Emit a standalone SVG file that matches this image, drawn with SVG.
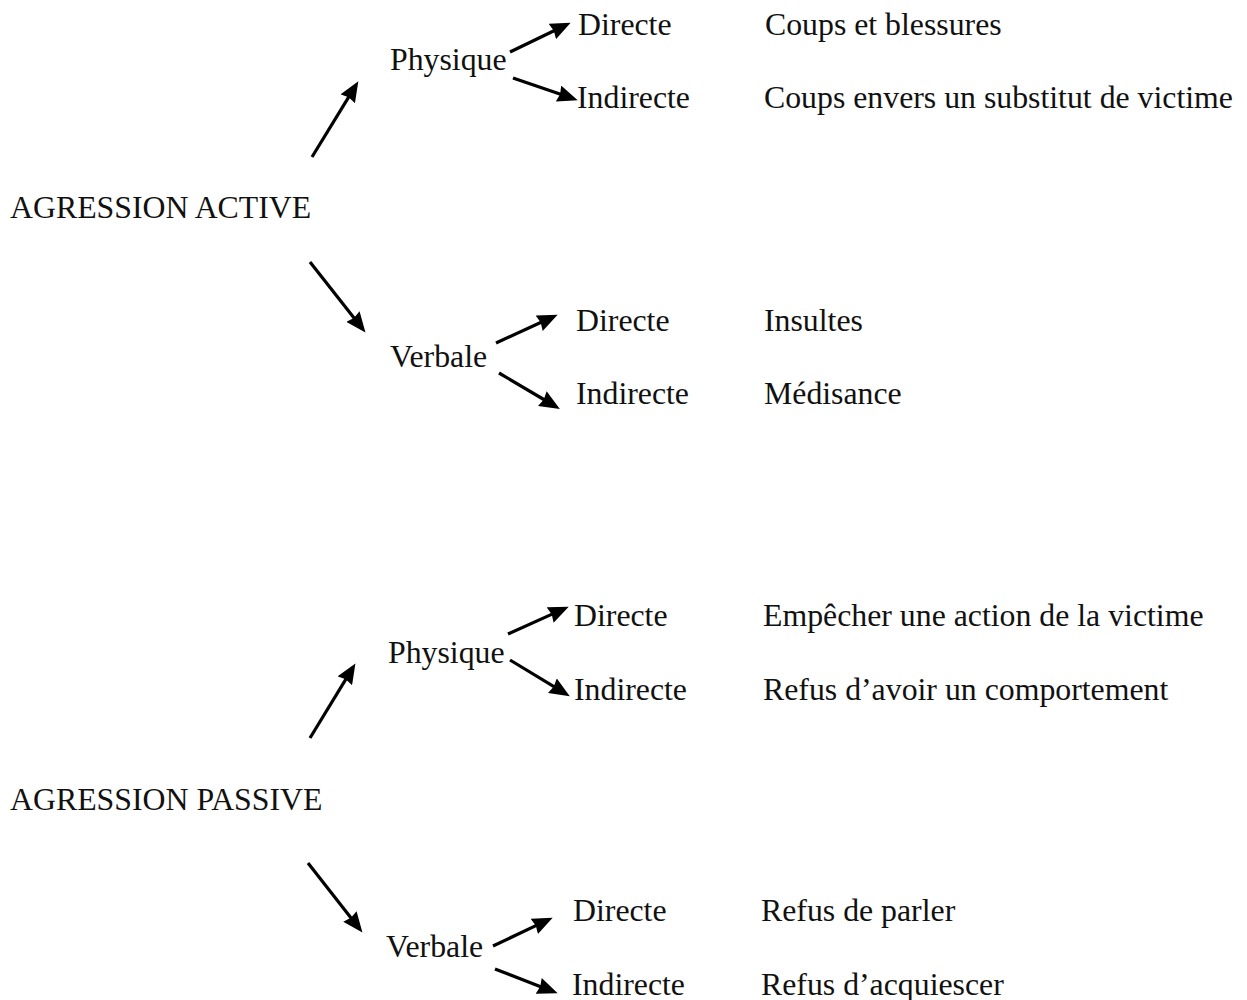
<svg xmlns="http://www.w3.org/2000/svg" width="1247" height="1000" viewBox="0 0 1247 1000">
<defs>
<marker id="ah" viewBox="0 0 12 10" markerWidth="6.4" markerHeight="5.3" refX="4.5" refY="5" orient="auto" markerUnits="strokeWidth">
<path d="M0,0 L12,5 L0,10 L1,5 Z" fill="#000"/>
</marker>
<style>
text{font-family:"Liberation Serif","Times New Roman",serif;font-size:31.8px;fill:#111}
.c line{stroke:#000;stroke-width:3.2;marker-end:url(#ah)}
</style>
</defs>
<rect width="1247" height="1000" fill="#fff"/>
<g id="active"><text x="10" y="218">AGRESSION ACTIVE</text></g>
<g id="a-phys"><text x="390" y="70">Physique</text></g>
<g id="a-phys-dir"><text x="578" y="35">Directe</text></g>
<g id="a-phys-ind"><text x="577" y="108">Indirecte</text></g>
<g id="a-phys-dir-ex"><text x="765" y="35">Coups et blessures</text></g>
<g id="a-phys-ind-ex"><text x="764" y="108">Coups envers un substitut de victime</text></g>
<g id="a-verb"><text x="390" y="367">Verbale</text></g>
<g id="a-verb-dir"><text x="576" y="331">Directe</text></g>
<g id="a-verb-ind"><text x="576" y="404">Indirecte</text></g>
<g id="a-verb-dir-ex"><text x="764" y="331">Insultes</text></g>
<g id="a-verb-ind-ex"><text x="764" y="404">Médisance</text></g>
<g id="passive"><text x="10" y="810">AGRESSION PASSIVE</text></g>
<g id="p-phys"><text x="388" y="663">Physique</text></g>
<g id="p-phys-dir"><text x="574" y="626">Directe</text></g>
<g id="p-phys-ind"><text x="574" y="700">Indirecte</text></g>
<g id="p-phys-dir-ex"><text x="763" y="626">Empêcher une action de la victime</text></g>
<g id="p-phys-ind-ex"><text x="763" y="700">Refus d’avoir un comportement</text></g>
<g id="p-verb"><text x="386" y="957">Verbale</text></g>
<g id="p-verb-dir"><text x="573" y="921">Directe</text></g>
<g id="p-verb-ind"><text x="572" y="995">Indirecte</text></g>
<g id="p-verb-dir-ex"><text x="761" y="921">Refus de parler</text></g>
<g id="p-verb-ind-ex"><text x="761" y="995">Refus d’acquiescer</text></g>
<g id="connectors" class="c">
<line x1="312" y1="157" x2="351.7" y2="92.2"/>
<line x1="510" y1="52" x2="559.2" y2="28.2"/>
<line x1="513" y1="78" x2="565.7" y2="96.1"/>
<line x1="310" y1="262" x2="357.6" y2="322.6"/>
<line x1="496" y1="343" x2="546.1" y2="320"/>
<line x1="499" y1="373" x2="548.9" y2="402.5"/>
<line x1="310" y1="738" x2="348.8" y2="674.3"/>
<line x1="508" y1="634" x2="557.1" y2="611.9"/>
<line x1="510" y1="660" x2="558.9" y2="689.6"/>
<line x1="308" y1="863" x2="354.6" y2="922.5"/>
<line x1="493" y1="946" x2="541.2" y2="923.1"/>
<line x1="495" y1="969" x2="545.8" y2="988.7"/>
</g>
</svg>
